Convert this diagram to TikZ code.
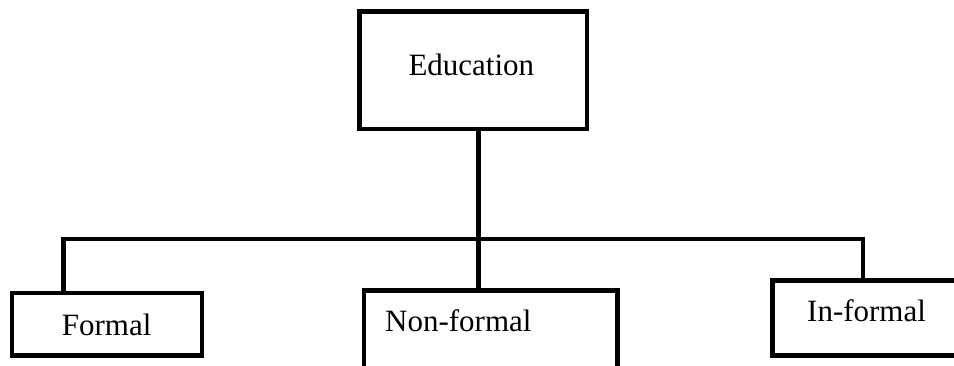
\documentclass[tikz,border=0pt]{standalone}
\usepackage{fontspec}
\setmainfont{Liberation Serif}
\begin{document}
\begin{tikzpicture}[x=1pt,y=-1pt,
  box/.style={draw=black,line width=4.6pt,fill=white,inner sep=0pt,outer sep=0pt},
  conn/.style={draw=black,line width=4.4pt},
  lbl/.style={anchor=base west,inner sep=0pt,font=\fontsize{31}{31}\selectfont}]
\useasboundingbox (0,0) rectangle (954,365);
\fill[white] (0,0) rectangle (954,365);
\begin{scope}
\clip (0,0) rectangle (954,365);
% boxes (line-centre geometry)
\node[box,minimum width=227.5pt,minimum height=117.3pt] (edu) at (473.25,70.35) {};
\node[box,minimum width=190pt,minimum height=62.7pt] (formal) at (107,324.35) {};
\node[box,minimum width=253.5pt,minimum height=100pt] (nf) at (490.75,340.5) {};
\node[box,minimum width=200pt,minimum height=75pt] (inf) at (872.5,318) {};
% junction coordinates
\coordinate (stem) at (478.3,239);
\coordinate (lj) at (63.3,239);
\coordinate (rj) at (863,239);
% connectors
\draw[conn] (stem |- edu.south) -- (stem |- nf.north);
\draw[conn] (lj |- formal.north) -- (lj) -- (rj) -- (rj |- inf.north);
% labels
\node[lbl] (tedu) at (408.3,75) {Education};
\node[lbl] (tformal) at (61.7,335) {Formal};
\node[lbl] (tnf) at (385,331.7) {Non-formal};
\node[lbl] (tinf) at (807,321.7) {In-formal};
\end{scope}
\end{tikzpicture}
\end{document}
